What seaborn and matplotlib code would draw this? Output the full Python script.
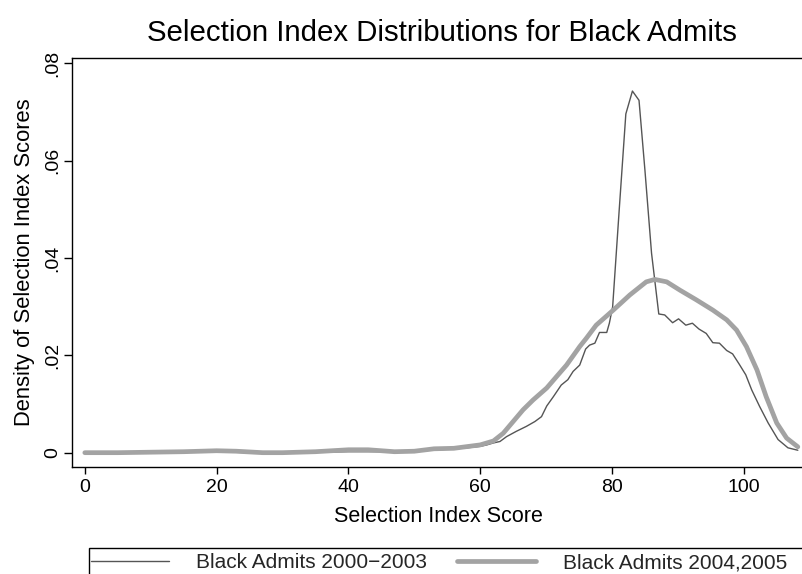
import numpy as np
import pandas as pd
import matplotlib
matplotlib.use("Agg")
import matplotlib.pyplot as plt
from matplotlib.patches import Rectangle
import seaborn as sns

# Kernel density of selection index scores, black admits 2000-2003
score_early = [0, 5, 10, 15, 20, 25, 30, 35, 40, 45, 50, 55, 58, 60, 61, 62,
               63, 64, 65.5, 67, 68.3, 69.3, 70.1, 71.1, 72.3, 73.3, 74.1, 75.1,
               76.0, 76.6, 77.4, 78.1, 79.2, 79.6, 80.1, 81.1, 82.1, 83.1, 84.1,
               85.0, 86.0, 87.1, 88.0, 89.2, 90.1, 91.2, 92.2, 93.2, 94.3, 95.3,
               96.3, 97.4, 98.3, 99.3, 100.3, 101.2, 102.4, 103.7, 105.2, 106.7,
               108.2]
dens_early = [0.0, 0.0, 0.0001, 0.0001, 0.0002, 0.0, 0.0, 0.0001, 0.0002, 0.0002,
              0.0003, 0.0007, 0.0010, 0.0013, 0.0016, 0.0020,
              0.0023, 0.0033, 0.0044, 0.0054, 0.0064, 0.0074, 0.0096, 0.0115,
              0.0139, 0.0150, 0.0167, 0.0180, 0.0213, 0.0221, 0.0225, 0.0247,
              0.0247, 0.0266, 0.0300, 0.0500, 0.0696, 0.0743, 0.0724, 0.0580,
              0.0410, 0.0285, 0.0283, 0.0267, 0.0275, 0.0262, 0.0266, 0.0254,
              0.0245, 0.0226, 0.0225, 0.0210, 0.0203, 0.0182, 0.0160, 0.0129,
              0.0095, 0.0061, 0.0027, 0.0010, 0.0005]

# Kernel density of selection index scores, black admits 2004 and 2005
score_late = [0, 5, 10, 15, 20, 23, 27, 30, 35, 40, 43, 47, 50, 53, 56, 60, 62,
              63.5, 65, 66.5, 68, 70.1, 71.5, 73.1, 75.1, 76.1, 77.6, 80.2, 82.7,
              85.2, 86.5, 88.3, 90.3, 92.8, 95.3, 97.4, 98.9, 100.4, 102.0,
              103.4, 105.0, 106.5, 108.2]
dens_late = [0.0, 0.0, 0.0001, 0.0002, 0.0004, 0.0003, 0.0, 0.0, 0.0002, 0.0006,
             0.0006, 0.0002, 0.0003, 0.0008, 0.0009, 0.0016, 0.0024,
             0.0040, 0.0064, 0.0088, 0.0108, 0.0133, 0.0155, 0.0180, 0.0218,
             0.0235, 0.0262, 0.0293, 0.0324, 0.0351, 0.0356, 0.0351, 0.0334,
             0.0314, 0.0293, 0.0273, 0.0252, 0.0218, 0.0170, 0.0115, 0.0061,
             0.0030, 0.0012]

series_names = ["Black Admits 2000\u22122003", "Black Admits 2004,2005"]
x_ticks = [0, 20, 40, 60, 80, 100]
y_ticks = [0, 0.02, 0.04, 0.06, 0.08]
y_tick_labels = ["0", ".02", ".04", ".06", ".08"]
title = "Selection Index Distributions for Black Admits"
x_title = "Selection Index Score"
y_title = "Density of Selection Index Scores"

sns.set_style("ticks")
plt.rcParams["font.family"] = ["Liberation Sans", "DejaVu Sans"]

W, H = 802, 574
fig = plt.figure(figsize=(W / 100, H / 100), dpi=100)
ax = fig.add_axes([71.7 / W, 1 - 466.7 / H, (806 - 71.7) / W, (466.7 - 58.3) / H])

early = pd.DataFrame({"score": score_early, "density": dens_early})
late = pd.DataFrame({"score": score_late, "density": dens_late})

sns.lineplot(data=early, x="score", y="density", ax=ax, color="#555555",
             linewidth=1.0, label=series_names[0], sort=False, estimator=None,
             zorder=2)
sns.lineplot(data=late, x="score", y="density", ax=ax, color="#a3a3a3",
             linewidth=3.4, label=series_names[1], sort=False, estimator=None,
             zorder=3)

ax.set_xlim(-1.99, 109.44)
ax.set_ylim(-0.00288, 0.08103)
ax.set_xticks(x_ticks)
ax.set_xticklabels([str(t) for t in x_ticks])
ax.set_yticks(y_ticks)
ax.set_yticklabels(y_tick_labels, rotation=90, va="center")
ax.tick_params(axis="x", direction="out", length=5, width=1, labelsize=14,
               pad=4, color="black", labelcolor="black")
ax.tick_params(axis="y", direction="out", length=5.8, width=1, labelsize=14,
               pad=1.5, color="black", labelcolor="black")
for side in ["left", "bottom", "top", "right"]:
    ax.spines[side].set_visible(True)
    ax.spines[side].set_color("black")
    ax.spines[side].set_linewidth(1.0)

ax.set_xlabel(x_title, fontsize=15.5, labelpad=7, color="black")
ax.set_ylabel(y_title, fontsize=15.8, labelpad=7, color="black")

fig.text(441.5 / W, 1 - 33 / H, title, ha="center", va="center", fontsize=21.2,
         color="black")

handles, labels = ax.get_legend_handles_labels()
ax.get_legend().remove()
fig.legend(handles, labels, ncol=2, frameon=False, loc="center left",
           bbox_to_anchor=(91 / W, 1 - 563 / H), borderpad=0, borderaxespad=0,
           handlelength=3.75, handletextpad=1.3, columnspacing=1.45,
           fontsize=15)
fig.add_artist(Rectangle((89 / W, -0.1), 1.0, (1 - 548 / H) + 0.1,
                         transform=fig.transFigure, fill=False,
                         edgecolor="black", linewidth=1.0))

fig.savefig("out.png", dpi=100)
